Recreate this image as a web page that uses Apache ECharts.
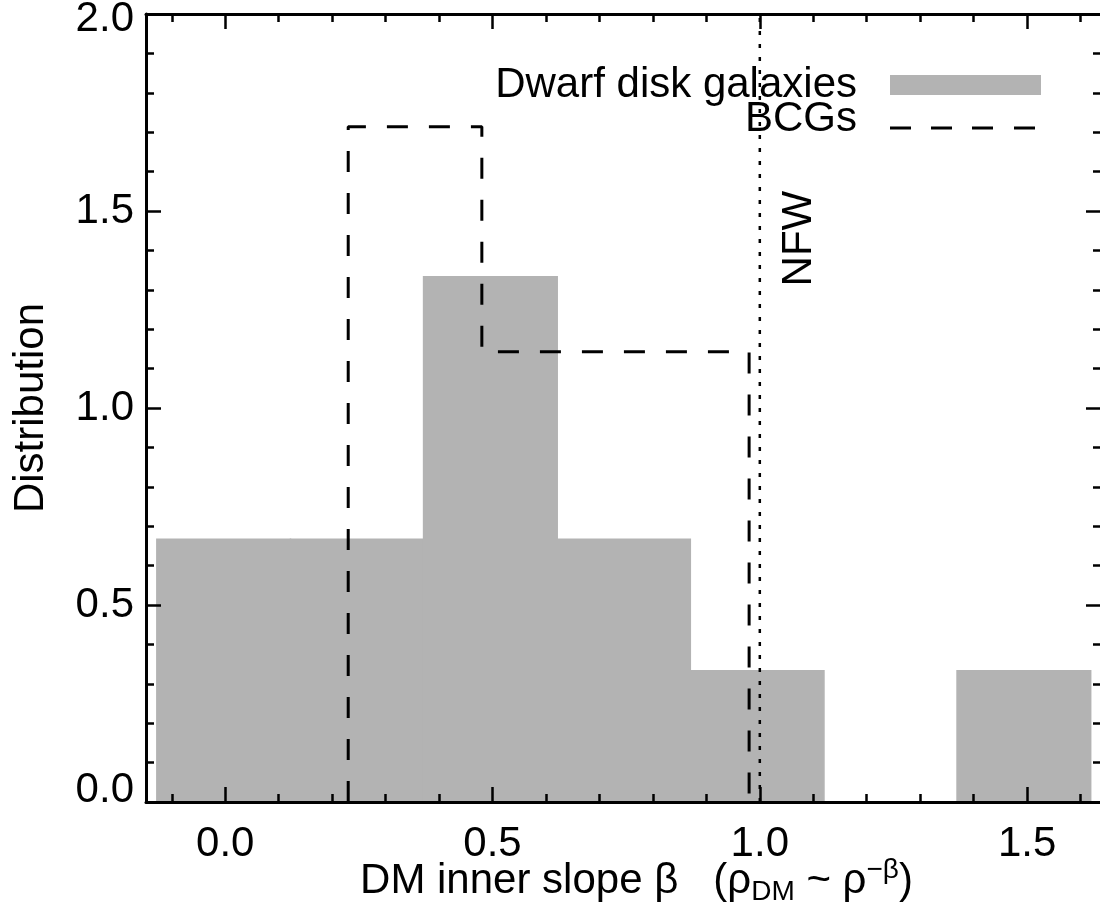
<!DOCTYPE html>
<html>
<head>
<meta charset="utf-8">
<script src="https://cdn.jsdelivr.net/npm/echarts@6/dist/echarts.min.js"></script>
<style>
html,body{margin:0;padding:0;background:#fff;}
#chart{width:1100px;height:914px;}
</style>
</head>
<body>
<div id="chart"></div>
<script>
// ---- data ----
const dwarfEdges = [-0.128, 0.122, 0.371, 0.621, 0.870, 1.120, 1.369, 1.619];
const dwarfHeights = [0.667, 0.667, 1.333, 0.667, 0.333, 0.0, 0.333];
const bcgEdges = [0.230, 0.480, 0.730, 0.980];
const bcgHeights = [1.714, 1.143, 1.143];
const nfwSlope = 1.0;
const nfwLabelPos = [1.075, 1.43];
const xMajorTicks = [0.0, 0.5, 1.0, 1.5];
const xMinorTicks = [-0.1, 0.1, 0.2, 0.3, 0.4, 0.6, 0.7, 0.8, 0.9, 1.1, 1.2, 1.3, 1.4, 1.6];
const yTickValues = [0.0, 0.5, 1.0, 1.5, 2.0];

const FONT = '"Liberation Sans", Arial, Helvetica, sans-serif';
const FS = 42;

// build series data
const dwarfData = dwarfHeights.map((h, i) => [dwarfEdges[i], dwarfEdges[i + 1], h]);
const bcgPath = [[bcgEdges[0], 0]];
bcgHeights.forEach((h, i) => { bcgPath.push([bcgEdges[i], h]); bcgPath.push([bcgEdges[i + 1], h]); });
bcgPath.push([bcgEdges[bcgEdges.length - 1], 0]);

const X_MIN = -0.1483, X_MAX = 1.6383;
const Y_MIN = yTickValues[0], Y_MAX = yTickValues[yTickValues.length - 1];

const lineBlack = { color: '#000', width: 3 };
const tickBlack = { color: '#000', width: 2.5 };

function xAxisDef(pos, ticks, len, withLine, withLabels) {
  return {
    type: 'value', position: pos, min: X_MIN, max: X_MAX, z: 10,
    axisLine: { show: withLine, onZero: false, lineStyle: lineBlack },
    axisTick: { show: true, inside: true, length: len, customValues: ticks, lineStyle: tickBlack },
    axisLabel: withLabels ? {
      show: true, customValues: ticks, fontSize: FS, fontFamily: FONT, color: '#000', margin: 21,
      formatter: v => v.toFixed(1)
    } : { show: false },
    splitLine: { show: false }
  };
}

const yLabelRich = {
  lo: { fontSize: FS, fontFamily: FONT, color: '#000', padding: [0, 0, 24, 0] },
  hi: { fontSize: FS, fontFamily: FONT, color: '#000', padding: [10, 0, 0, 0] },
  n: { fontSize: FS, fontFamily: FONT, color: '#000' }
};
function yLabelFmt(v) {
  const s = v.toFixed(1);
  if (v === Y_MIN) return '{lo|' + s + '}';
  if (v === Y_MAX) return '{hi|' + s + '}';
  return '{n|' + s + '}';
}

const legendRich = {
  a: { fontSize: FS, fontFamily: FONT, color: '#000', lineHeight: 48 },
  b: { fontSize: 2, lineHeight: 18 }
};

const chart = echarts.init(document.getElementById('chart'), null, { renderer: 'canvas' });

const option = {
  backgroundColor: '#fff',
  animation: false,
  grid: { left: 146, right: -1, top: 14, bottom: 112, containLabel: false, outerBoundsMode: 'none' },
  xAxis: [
    Object.assign(xAxisDef('bottom', xMajorTicks, 15, true, true), {
      name: '{t|DM inner slope β   (ρ}{s|DM}{t| ~ ρ}{p|−β}{t|)}',
      nameLocation: 'middle', nameGap: 54, nameMoveOverlap: false,
      nameTextStyle: {
        padding: [0, 0, 0, 26],
        rich: {
          t: { fontSize: FS, fontFamily: FONT, color: '#000', lineHeight: 50, verticalAlign: 'middle' },
          s: { fontSize: 28, fontFamily: FONT, color: '#000', lineHeight: 28, verticalAlign: 'bottom' },
          p: { fontSize: 28, fontFamily: FONT, color: '#000', lineHeight: 28, verticalAlign: 'top' }
        }
      }
    }),
    xAxisDef('bottom', xMinorTicks, 8, false, false),
    xAxisDef('top', xMajorTicks, 15, true, false),
    xAxisDef('top', xMinorTicks, 8, false, false)
  ],
  yAxis: [
    {
      type: 'value', position: 'left', min: Y_MIN, max: Y_MAX, interval: 0.5, z: 10,
      name: 'Distribution', nameLocation: 'middle', nameGap: 94, nameMoveOverlap: false,
      nameTextStyle: { fontSize: FS, fontFamily: FONT, color: '#000' },
      axisLine: { show: true, onZero: false, lineStyle: lineBlack },
      axisTick: { show: true, inside: true, length: 15, lineStyle: tickBlack },
      minorTick: { show: true, splitNumber: 5, length: 8, lineStyle: tickBlack },
      axisLabel: { fontSize: FS, fontFamily: FONT, color: '#000', margin: 12, formatter: yLabelFmt, rich: yLabelRich },
      splitLine: { show: false }, minorSplitLine: { show: false }
    },
    {
      type: 'value', position: 'right', min: Y_MIN, max: Y_MAX, interval: 0.5, z: 10,
      axisLine: { show: true, onZero: false, lineStyle: lineBlack },
      axisTick: { show: true, inside: true, length: 15, lineStyle: tickBlack },
      minorTick: { show: true, splitNumber: 5, length: 8, lineStyle: tickBlack },
      axisLabel: { show: false },
      splitLine: { show: false }, minorSplitLine: { show: false }
    }
  ],
  legend: [
    {
      data: ['Dwarf disk galaxies'], right: 59, top: 64, orient: 'vertical', align: 'right',
      padding: 0, icon: 'rect', itemWidth: 151, itemHeight: 20, selectedMode: false,
      textStyle: { fontSize: FS, fontFamily: FONT, color: '#000', padding: [0, 28, 12, 0] }
    },
    {
      data: ['BCGs'], right: 65, top: 98, orient: 'vertical', align: 'right',
      padding: 0, itemWidth: 145, itemHeight: 3, selectedMode: false,
      icon: 'path://M0 0h21v3h-21zM41 0h21v3h-21zM82 0h21v3h-21zM124 0h21v3h-21z',
      formatter: '{a|{name}}\n{b| }',
      textStyle: { fontSize: FS, fontFamily: FONT, color: '#000', padding: [0, 28, 0, 0], rich: legendRich }
    }
  ],
  series: [
    {
      name: 'Dwarf disk galaxies', type: 'custom', xAxisIndex: 0, yAxisIndex: 0, z: 1,
      itemStyle: { color: '#b3b3b3' },
      encode: { x: [0, 1], y: 2 },
      data: dwarfData,
      renderItem: function (params, api) {
        const p0 = api.coord([api.value(0), api.value(2)]);
        const p1 = api.coord([api.value(1), 0]);
        return {
          type: 'rect',
          shape: { x: p0[0], y: p0[1], width: p1[0] - p0[0], height: p1[1] - p0[1] },
          style: { fill: '#b3b3b3', stroke: '#b3b3b3', lineWidth: 1.5 }
        };
      }
    },
    {
      name: 'BCGs', type: 'line', xAxisIndex: 0, yAxisIndex: 0, z: 4,
      data: bcgPath, symbol: 'none', showSymbol: false,
      itemStyle: { color: '#000' },
      lineStyle: { color: '#000', width: 3, type: [21, 21] }
    },
    {
      name: 'NFW', type: 'line', xAxisIndex: 0, yAxisIndex: 0, z: 3,
      data: [[nfwSlope, Y_MIN], [nfwSlope, Y_MAX]], symbol: 'none',
      lineStyle: { color: '#000', width: 2.5, type: [4, 9] }
    },
    {
      name: 'NFW label', type: 'scatter', xAxisIndex: 0, yAxisIndex: 0, z: 5,
      data: [nfwLabelPos], symbolSize: 0, silent: true,
      itemStyle: { opacity: 1 },
      label: { show: true, position: 'inside', rotate: 90, formatter: 'NFW', fontSize: FS, fontFamily: FONT, color: '#000', opacity: 1 }
    }
  ]
};
chart.setOption(option);
</script>
</body>
</html>
